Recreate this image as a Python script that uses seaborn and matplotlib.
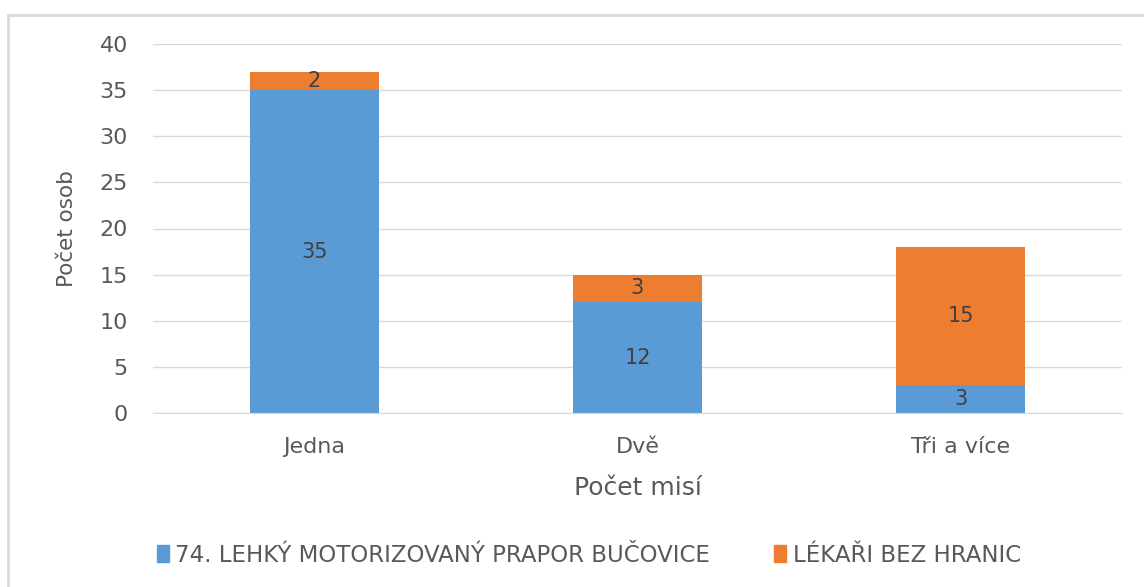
import matplotlib
matplotlib.use("Agg")
import matplotlib.pyplot as plt
from matplotlib.lines import Line2D
from matplotlib.patches import Patch
import seaborn as sns
import pandas as pd

categories = ["Jedna", "Dvě", "Tři a více"]
series_blue_name = "74. LEHKÝ MOTORIZOVANÝ PRAPOR BUČOVICE"
series_orange_name = "LÉKAŘI BEZ HRANIC"
blue_values = [35, 12, 3]
orange_values = [2, 3, 15]
yticks = [0, 5, 10, 15, 20, 25, 30, 35, 40]

BLUE = "#5B9BD5"
ORANGE = "#ED7D31"
TXT = "#595959"

sns.set_style("white")
plt.rcParams["font.family"] = ["DejaVu Sans"]

df = pd.DataFrame({"cat": categories, "blue": blue_values, "orange": orange_values})

fig = plt.figure(figsize=(11.44, 5.87), dpi=100)
ax = fig.add_axes([153/1144, 1-413/587, (1122-153)/1144, (413-44)/587])

sns.barplot(data=df, x="cat", y="blue", color=BLUE, width=0.4, ax=ax,
            saturation=1, linewidth=0, order=categories)
sns.barplot(data=df, x="cat", y="orange", color=ORANGE, width=0.4, ax=ax,
            saturation=1, linewidth=0, order=categories, bottom=df["blue"].values)

for cont in ax.containers:
    ax.bar_label(cont, label_type="center", fontsize=15, color="#404040")

ax.set_ylim(0, 40)
ax.set_xlim(-0.5, 2.5)
ax.set_yticks(yticks)
ax.yaxis.grid(True, color="#D9D9D9", linewidth=1)
ax.set_axisbelow(True)
for s in ["top", "right", "left"]:
    ax.spines[s].set_visible(False)
ax.spines["bottom"].set_color("#D9D9D9")
ax.tick_params(axis="y", length=0, pad=18, labelsize=16, labelcolor=TXT)
ax.tick_params(axis="x", length=0, pad=17, labelsize=16, labelcolor=TXT)
ax.set_xlabel("Počet misí", fontsize=18, color=TXT, labelpad=14)
ax.set_ylabel("Počet osob", fontsize=15.5, color=TXT, labelpad=16)

handles = [Patch(color=BLUE), Patch(color=ORANGE)]
fig.legend(handles, [series_blue_name, series_orange_name], loc="center",
           bbox_to_anchor=(589/1144, 1-555/587), ncol=2, frameon=False,
           fontsize=16.5, labelcolor=TXT, handlelength=0.5, handleheight=0.7,
           handletextpad=0.3, columnspacing=2.8)

fig.add_artist(Line2D([8/1144, 1], [1-15/587, 1-15/587], color="#D9D9D9", linewidth=2,
                      transform=fig.transFigure))
fig.add_artist(Line2D([8/1144, 8/1144], [0, 1-15/587], color="#D9D9D9", linewidth=2,
                      transform=fig.transFigure))

fig.savefig("out.png", dpi=100)
